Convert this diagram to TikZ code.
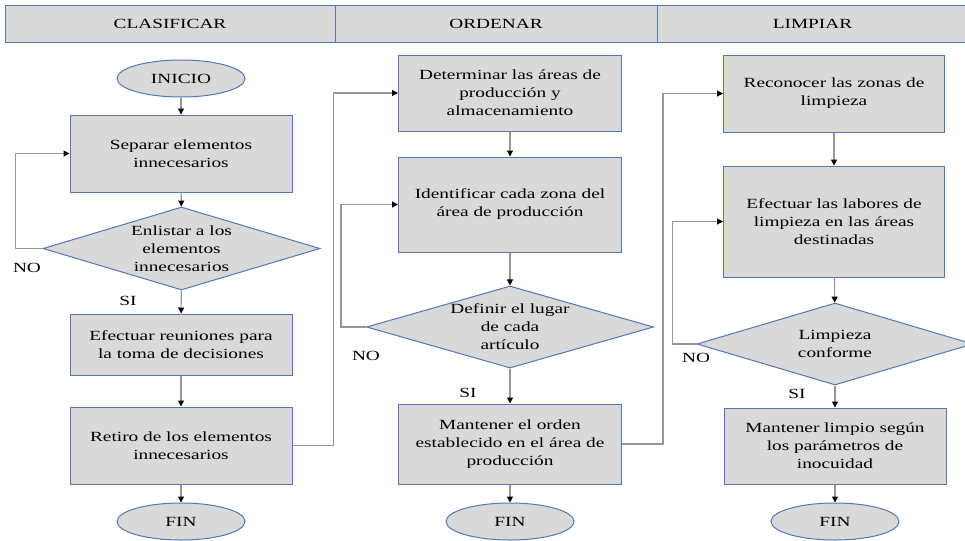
\documentclass[tikz,border=0pt]{standalone}
\usepackage{fontspec}
\setmainfont[FakeStretch=1.38]{Liberation Serif}
\usetikzlibrary{shapes.geometric,arrows.meta}
\definecolor{boxfill}{RGB}{217,217,217}
\definecolor{boxline}{RGB}{84,118,178}
\definecolor{connline}{RGB}{150,150,150}

\tikzset{
  every node/.style={font=\fontsize{10.5}{13.5}\selectfont},
  header/.style={draw=boxline,fill=boxfill,line width=0.75pt,minimum height=27.75pt,inner sep=0pt},
  procbox/.style={draw=boxline,fill=boxfill,line width=0.75pt,align=center,inner sep=0pt,minimum width=166.5pt},
  decision/.style={diamond,draw=boxline,fill=boxfill,line width=0.75pt,align=center,inner sep=0pt,aspect=3.3},
  terminal/.style={ellipse,draw=boxline,fill=boxfill,line width=0.75pt,minimum width=96pt,minimum height=27.75pt,inner sep=0pt},
  conn/.style={draw=connline,line width=0.8pt,-{Triangle[black,length=4.5pt,width=4.5pt]}},
  lbl/.style={inner sep=0pt}
}

\begin{document}
\begin{tikzpicture}[x=0.75pt,y=0.75pt,yscale=-1]
\path[use as bounding box] (0,0) rectangle (965,540);

% Headers
\node[header,minimum width=247.5pt] (hclas) at (170,23.5) {CLASIFICAR};
\node[header,minimum width=241.5pt] (hord) at (496,23.5) {ORDENAR};
\node[header,minimum width=233.25pt] (hlim) at (812.5,23.5) {LIMPIAR};

% Clasificar
\node[terminal] (inicio) at (181,78.5) {INICIO};
\node[procbox,minimum height=57.75pt] (sep) at (181,153.5) {Separar elementos\\innecesarios};
\node[decision,minimum width=207.75pt,minimum height=62.25pt] (enl) at (181.5,248.5) {Enlistar a los\\elementos\\innecesarios};
\node[procbox,minimum height=45.75pt] (reu) at (181,344.5) {Efectuar reuniones para\\la toma de decisiones};
\node[procbox,minimum height=57.75pt] (ret) at (181,445.5) {Retiro de los elementos\\innecesarios};
\node[terminal] (fin1) at (181,521.5) {FIN};
\node[lbl] (no1) at (27,268) {NO};
\node[lbl] (si1) at (128,301) {SI};

% Ordenar
\node[procbox,minimum width=167.25pt,minimum height=57pt] (det) at (510,93) {Determinar las áreas de\\producción y\\almacenamiento};
\node[procbox,minimum width=167.25pt,minimum height=71.25pt] (ide) at (510,204.5) {Identificar cada zona del\\área de producción};
\node[decision,minimum width=215.25pt,minimum height=61.5pt] (def) at (510,327) {Definir el lugar\\de cada\\artículo};
\node[procbox,minimum width=167.25pt,minimum height=60pt] (man) at (510,444) {Mantener el orden\\establecido en el área de\\producción};
\node[terminal] (fin2) at (510,521.5) {FIN};
\node[lbl] (no2) at (366,356) {NO};
\node[lbl] (si2) at (468,393) {SI};

% Limpiar
\node[procbox,minimum width=165.75pt,minimum height=57.75pt] (rec) at (834,93.5) {Reconocer las zonas de\\limpieza};
\node[procbox,minimum width=165.75pt,minimum height=83.25pt] (lab) at (834,221.5) {Efectuar las labores de\\limpieza en las áreas\\destinadas};
\node[decision,minimum width=207pt,minimum height=61.5pt] (conf) at (835,344) {Limpieza\\conforme};
\node[procbox,minimum height=57pt] (mli) at (835,446) {Mantener limpio según\\los parámetros de\\inocuidad};
\node[terminal] (fin3) at (835,521.5) {FIN};
\node[lbl] (no3) at (696,358) {NO};
\node[lbl] (si3) at (797,394) {SI};

% Connectors
\draw[conn] (inicio) -- (sep);
\draw[conn] (sep) -- (enl);
\draw[conn] (enl) -- (reu);
\draw[conn] (reu) -- (ret);
\draw[conn] (ret) -- (fin1);
\draw[conn] (enl.west) -- ++(-27,0) |- (sep.west);
\draw[conn] (ret.east) -- ++(41,0) |- (det.west);

\draw[conn] (det) -- (ide);
\draw[conn] (ide) -- (def);
\draw[conn] (def) -- (man);
\draw[conn] (man) -- (fin2);
\draw[conn] (def.west) -- ++(-25,0) |- (ide.west);
\draw[conn] (man.east) -- ++(41,0) |- (rec.west);

\draw[conn] (rec) -- (lab);
\draw[conn] (lab) -- (conf);
\draw[conn] (conf) -- (mli);
\draw[conn] (mli) -- (fin3);
\draw[conn] (conf.west) -- ++(-24,0) |- (lab.west);

\end{tikzpicture}
\end{document}
